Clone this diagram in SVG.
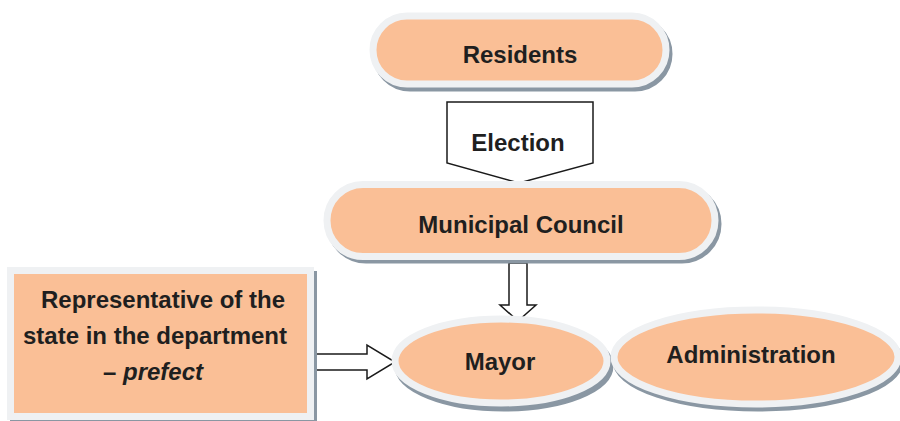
<svg xmlns="http://www.w3.org/2000/svg" width="900" height="421" viewBox="0 0 900 421">
<style>
.shadow{fill:#8a97a3;stroke:#8a97a3;stroke-width:7}
.node{fill:#fabf96;stroke:#eff1f3;stroke-width:7}
.lbl{font-family:"Liberation Sans",Arial,sans-serif;font-weight:bold;font-size:24px;fill:#1f1f1f;text-anchor:middle}
.arrow{fill:#ffffff;stroke:#1a1a1a;stroke-width:1.5;stroke-linejoin:miter}
</style>
<rect width="900" height="421" fill="#ffffff"/>
<g id="connectors">
<polygon class="arrow" points="447,102 593,102 593,163 519,183 447,163"/>
<text class="lbl" x="518" y="151" font-size="23">Election</text>
<polygon class="arrow" points="509,263 527,263 527,305 536,305 518,321 500,305 509,305"/>
<polygon class="arrow" points="311,354 367,354 367,345 395,362 367,379 367,370 311,370"/>
</g>
<g id="residents">
<rect class="shadow" x="376" y="20" width="293" height="68" rx="34"/>
<rect class="node" x="373" y="16" width="293" height="68" rx="34"/>
<text class="lbl" x="520" y="63" font-size="22.5">Residents</text>
</g>
<g id="council">
<rect class="shadow" x="330" y="188" width="388" height="72" rx="36"/>
<rect class="node" x="327" y="184.5" width="388" height="72" rx="36"/>
<text class="lbl" x="521" y="233">Municipal Council</text>
</g>
<g id="prefect">
<rect class="shadow" x="13.5" y="274.5" width="300" height="146"/>
<rect class="node" x="10.5" y="270.5" width="300" height="146"/>
<text class="lbl" x="163" y="308">Representative of the</text>
<text class="lbl" x="155" y="344">state in the department</text>
<text class="lbl" x="153" y="380">– <tspan font-style="italic">prefect</tspan></text>
</g>
<g id="mayor">
<ellipse class="shadow" cx="504" cy="366" rx="106" ry="42" stroke-width="6"/>
<ellipse class="node" cx="501" cy="361" rx="106" ry="42" stroke-width="6"/>
<text class="lbl" x="500" y="370">Mayor</text>
</g>
<g id="administration">
<ellipse class="shadow" cx="758" cy="361" rx="142" ry="47" stroke-width="6"/>
<ellipse class="node" cx="756" cy="357" rx="142" ry="47" stroke-width="6"/>
<text class="lbl" x="751" y="363">Administration</text>
</g>
</svg>
